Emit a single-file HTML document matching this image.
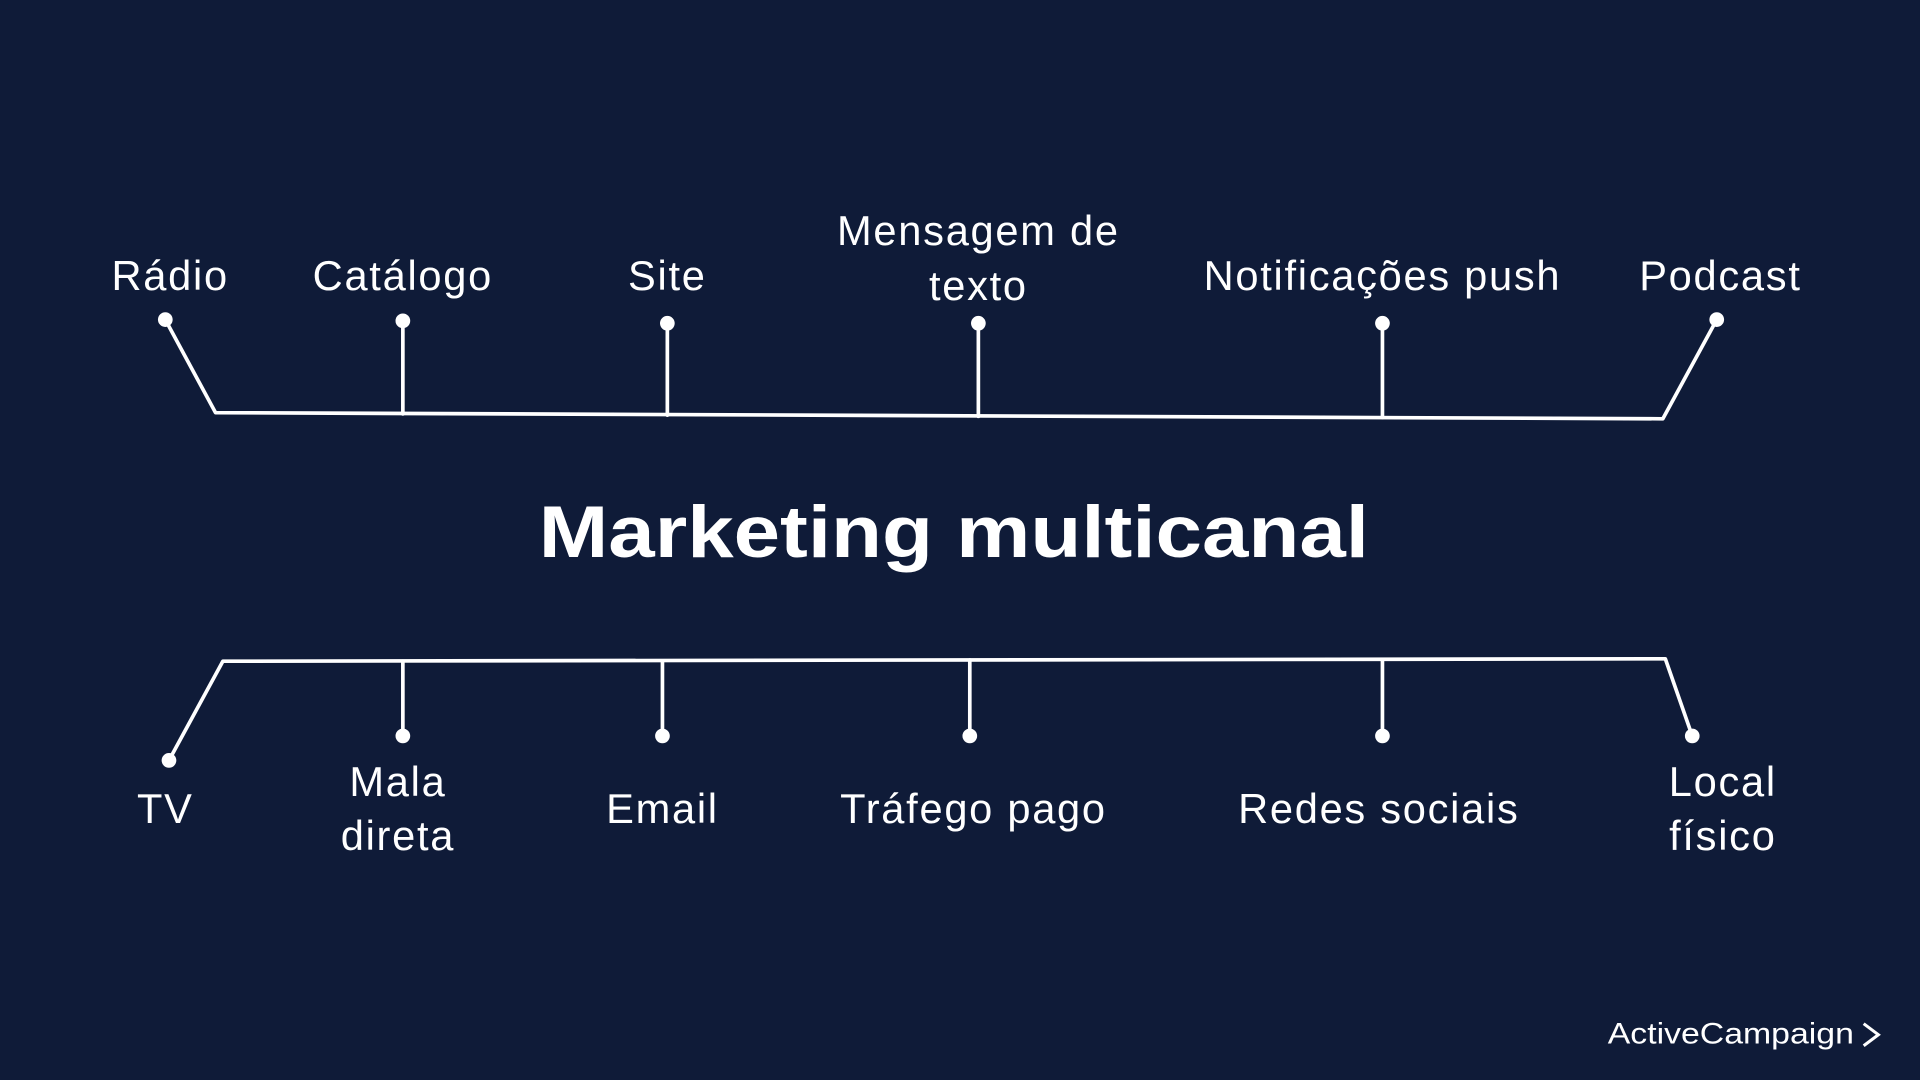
<!DOCTYPE html>
<html><head><meta charset="utf-8"><style>
html,body{margin:0;padding:0;background:#0f1b38;}
svg{display:block}
text{font-family:"Liberation Sans","DejaVu Sans",sans-serif;fill:#fff}
.l text{letter-spacing:1.4px}
</style></head><body>
<svg width="1920" height="1080" viewBox="0 0 1568 882" xmlns="http://www.w3.org/2000/svg">
<rect width="1568" height="882" fill="#0f1b38"/>
<g stroke="#fff" stroke-width="3" fill="none" stroke-linecap="round" stroke-linejoin="round">
<polyline points="135,261 176,337 1358,342 1402,261"/>
<line x1="329" y1="262" x2="329" y2="338"/>
<line x1="545" y1="264" x2="545" y2="339"/>
<line x1="799" y1="264" x2="799" y2="340"/>
<line x1="1129" y1="264" x2="1129" y2="341"/>
<polyline points="138,621 182,540 1360,538 1382,601"/>
<line x1="329" y1="540" x2="329" y2="601"/>
<line x1="541" y1="540" x2="541" y2="601"/>
<line x1="792" y1="539" x2="792" y2="601"/>
<line x1="1129" y1="539" x2="1129" y2="601"/>
</g>
<g fill="#fff">
<circle cx="135" cy="261" r="6"/><circle cx="329" cy="262" r="6"/><circle cx="545" cy="264" r="6"/>
<circle cx="799" cy="264" r="6"/><circle cx="1129" cy="264" r="6"/><circle cx="1402" cy="261" r="6"/>
<circle cx="138" cy="621" r="6"/><circle cx="329" cy="601" r="6"/><circle cx="541" cy="601" r="6"/>
<circle cx="792" cy="601" r="6"/><circle cx="1129" cy="601" r="6"/><circle cx="1382" cy="601" r="6"/>
</g>
<g class="l" font-size="34" text-anchor="middle">
<text x="139" y="237">Rádio</text>
<text x="329" y="237">Catálogo</text>
<text x="545" y="237">Site</text>
<text x="799" y="200">Mensagem de</text>
<text x="799" y="245">texto</text>
<text x="1129" y="237">Notificações push</text>
<text x="1405" y="237">Podcast</text>
<text x="135" y="672">TV</text>
<text x="325" y="650">Mala</text>
<text x="325" y="694">direta</text>
<text x="541" y="672">Email</text>
<text x="795" y="672">Tráfego pago</text>
<text x="1126" y="672">Redes sociais</text>
<text x="1407" y="650">Local</text>
<text x="1407" y="694">físico</text>
</g>
<text x="440" y="455" font-size="60" font-weight="bold" textLength="678" lengthAdjust="spacingAndGlyphs">Marketing multicanal</text>
<text x="1313" y="852" font-size="24" textLength="201" lengthAdjust="spacingAndGlyphs">ActiveCampaign</text>
<polyline points="1522,836 1534,845 1522,854" stroke="#fff" stroke-width="2.5" fill="none"/>
</svg>
</body></html>
